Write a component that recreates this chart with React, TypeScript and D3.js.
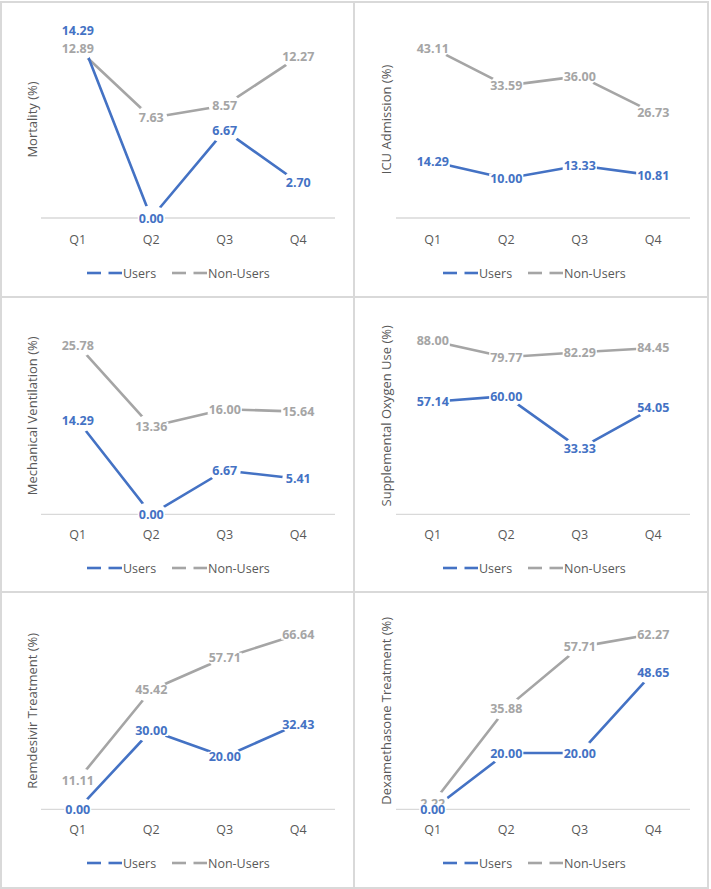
import React from "react";
import * as d3 from "d3";

const categories = ["Q1", "Q2", "Q3", "Q4"];
const seriesNames = ["Users", "Non-Users"];
const yTitles = [
  "Mortality (%)",
  "ICU Admission (%)",
  "Mechanical Ventilation (%)",
  "Supplemental Oxygen Use (%)",
  "Remdesivir Treatment (%)",
  "Dexamethasone Treatment (%)",
];
const usersValues = [
  [14.29, 0.0, 6.67, 2.7],
  [14.29, 10.0, 13.33, 10.81],
  [14.29, 0.0, 6.67, 5.41],
  [57.14, 60.0, 33.33, 54.05],
  [0.0, 30.0, 20.0, 32.43],
  [0.0, 20.0, 20.0, 48.65],
];
const nonUsersValues = [
  [12.89, 7.63, 8.57, 12.27],
  [43.11, 33.59, 36.0, 26.73],
  [25.78, 13.36, 16.0, 15.64],
  [88.0, 79.77, 82.29, 84.45],
  [11.11, 45.42, 57.71, 66.64],
  [2.22, 35.88, 57.71, 62.27],
];
const yMax = [15, 50, 30, 100, 75, 70];

const BLUE = "#4472C4";
const GRAY = "#A5A5A5";
const TEXT = "#595959";
const BORDER = "#D9D9D9";
const FONT = "'Open Sans', 'Liberation Sans', sans-serif";

let ctx: CanvasRenderingContext2D | null = null;
function measure(text: string, font: string): number {
  if (!ctx) {
    const c = document.createElement("canvas");
    ctx = c.getContext("2d");
  }
  if (!ctx) return text.length * 7;
  ctx.font = font;
  return ctx.measureText(text).width;
}

const colX = [1, 354];
const rowY = [2, 297, 592];

function Panel({ idx }: { idx: number }) {
  const col = idx % 2;
  const row = Math.floor(idx / 2);
  const x0 = colX[col];
  const y0 = rowY[row];
  const left = 40 + col * 2;
  const right = 334 + col * 2;
  const axisY = row === 0 ? 216 : 217.3;
  const topY = axisY - 197;

  const x = d3.scaleBand<string>().domain(categories).range([left, right]).padding(0);
  const y = d3.scaleLinear().domain([0, yMax[idx]]).range([axisY, topY]);
  const cx = (c: string) => (x(c) as number) + x.bandwidth() / 2;

  const line = d3
    .line<number>()
    .x((_, i) => cx(categories[i]))
    .y((v) => y(v));

  const series = [
    { name: seriesNames[1], values: nonUsersValues[idx], color: GRAY },
    { name: seriesNames[0], values: usersValues[idx], color: BLUE },
  ];
  const maskId = `m${idx}`;
  const labelFont = `bold 12.5px ${FONT}`;

  const legendX = 86 + col * 3;
  const legendY = 271;

  return (
    <g transform={`translate(${x0},${y0})`}>
      <defs>
        <mask id={maskId} maskUnits="userSpaceOnUse" x={0} y={0} width={360} height={300}>
          <rect x={0} y={0} width={360} height={300} fill="white" />
          {series.map((s) =>
            s.values.map((v, i) => (
              <ellipse key={s.name + i} cx={cx(categories[i])} cy={y(v)} rx={16} ry={12.5} fill="black" />
            ))
          )}
        </mask>
      </defs>
      <line x1={left} x2={right} y1={axisY} y2={axisY} stroke={BORDER} strokeWidth={1.3} />
      <g mask={`url(#${maskId})`}>
        {series.map((s) => (
          <path
            key={s.name}
            d={line(s.values) || ""}
            fill="none"
            stroke={s.color}
            strokeWidth={2.6}
            strokeLinecap="round"
            strokeLinejoin="round"
          />
        ))}
      </g>
      {series.map((s) =>
        s.values.map((v, i) => {
          const t = v.toFixed(2);
          const w = measure(t, labelFont);
          const px = cx(categories[i]);
          const py = y(v);
          return (
            <g key={s.name + "l" + i}>
              <rect x={px - w / 2 - 1} y={py - 5} width={w + 2} height={10.5} fill="white" />
              <text
                x={px}
                y={py}
                dy="0.36em"
                textAnchor="middle"
                fill={s.color}
                fontFamily={FONT}
                fontWeight="bold"
                fontSize={12.5}
              >
                {t}
              </text>
            </g>
          );
        })
      )}
      {categories.map((c) => (
        <text
          key={c}
          x={cx(c)}
          y={237.5}
          dy="0.36em"
          textAnchor="middle"
          fill={TEXT}
          fontFamily={FONT}
          fontSize={12.5}
        >
          {c}
        </text>
      ))}
      <text
        transform={`translate(${31 + col},${(axisY + topY) / 2}) rotate(-90)`}
        textAnchor="middle"
        dy="0.36em"
        fill={TEXT}
        fontFamily={FONT}
        fontSize={13}
      >
        {yTitles[idx]}
      </text>
      <g transform={`translate(${legendX},${legendY})`}>
        <line x1={0} x2={14} y1={0} y2={0} stroke={BLUE} strokeWidth={2.6} />
        <line x1={21.5} x2={35} y1={0} y2={0} stroke={BLUE} strokeWidth={2.6} />
        <text x={36} y={0} dy="0.36em" fill={TEXT} fontFamily={FONT} fontSize={12.5}>
          {seriesNames[0]}
        </text>
        <line x1={85} x2={99} y1={0} y2={0} stroke={GRAY} strokeWidth={2.6} />
        <line x1={106.5} x2={120} y1={0} y2={0} stroke={GRAY} strokeWidth={2.6} />
        <text x={121} y={0} dy="0.36em" fill={TEXT} fontFamily={FONT} fontSize={12.5}>
          {seriesNames[1]}
        </text>
      </g>
    </g>
  );
}

export default function App() {
  const W = 711;
  const H = 889;
  const vLines = [1, 354, 708];
  const hLines = [2, 297, 592, 888];
  return (
    <svg
      width={W}
      height={H}
      style={{ position: "absolute", left: 0, top: 0, background: "white" }}
    >
      <rect x={0} y={0} width={W} height={H} fill="white" />
      {yTitles.map((_, i) => (
        <Panel key={i} idx={i} />
      ))}
      {vLines.map((vx) => (
        <line key={"v" + vx} x1={vx} x2={vx} y1={1} y2={889} stroke={BORDER} strokeWidth={2} />
      ))}
      {hLines.map((hy) => (
        <line key={"h" + hy} x1={0} x2={709} y1={hy} y2={hy} stroke={BORDER} strokeWidth={2} />
      ))}
    </svg>
  );
}
